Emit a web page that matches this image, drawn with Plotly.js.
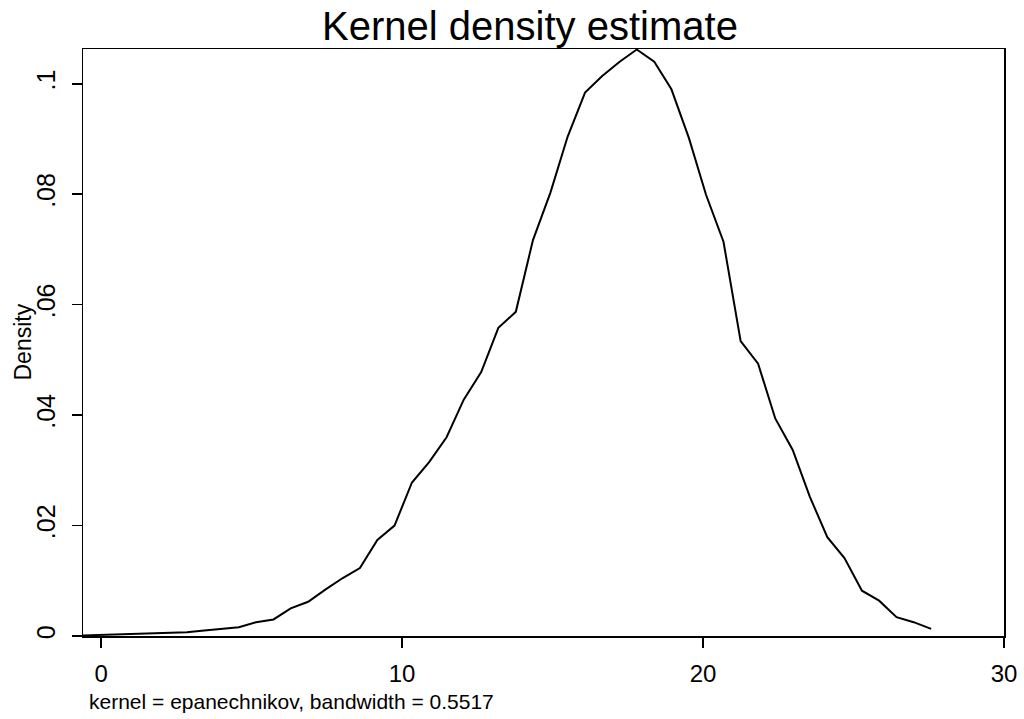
<!DOCTYPE html>
<html>
<head>
<meta charset="utf-8">
<script src="https://cdn.plot.ly/plotly-3.0.1.min.js"></script>
<style>html,body{margin:0;padding:0;background:#fff;}#chart{width:1024px;height:719px;}</style>
</head>
<body>
<div id="chart"></div>
<script>
const gridPoints = [-0.60, -0.02, 0.55, 1.13, 1.70, 2.28, 2.85, 3.43, 4.00, 4.58,
  5.15, 5.73, 6.30, 6.88, 7.45, 8.03, 8.60, 9.18, 9.75, 10.33,
  10.90, 11.48, 12.05, 12.63, 13.20, 13.78, 14.35, 14.93, 15.50, 16.08,
  16.65, 17.23, 17.80, 18.38, 18.95, 19.53, 20.10, 20.68, 21.25, 21.83,
  22.40, 22.98, 23.55, 24.13, 24.70, 25.28, 25.85, 26.43, 27.00, 27.58];
const densityValues = [0.0001, 0.0002, 0.0003, 0.0004, 0.0005, 0.0006, 0.0007, 0.0010, 0.0013, 0.0016,
  0.0025, 0.0030, 0.0050, 0.0062, 0.0084, 0.0105, 0.0123, 0.0174, 0.0200, 0.0278,
  0.0315, 0.0360, 0.0428, 0.0478, 0.0558, 0.0587, 0.0717, 0.0803, 0.0904, 0.0984,
  0.1014, 0.1040, 0.1062, 0.1040, 0.0990, 0.0902, 0.0799, 0.0714, 0.0534, 0.0493,
  0.0394, 0.0337, 0.0252, 0.0179, 0.0141, 0.0082, 0.0064, 0.0034, 0.0025, 0.0013];
const xTickVals = [0, 10, 20, 30];
const xTickText = ["0", "10", "20", "30"];
const yTickVals = [0, 0.02, 0.04, 0.06, 0.08, 0.1];
const yTickText = ["0", ".02", ".04", ".06", ".08", ".1"];
const chartTitle = "Kernel density estimate";
const yTitle = "Density";
const noteText = "kernel = epanechnikov, bandwidth = 0.5517";

const W = 1024, H = 719;
const fontFam = "Liberation Sans, Arial, sans-serif";

const trace = {
  x: gridPoints, y: densityValues, type: "scatter", mode: "lines",
  line: {color: "#000000", width: 2}, hoverinfo: "skip"
};

const axisCommon = {
  showline: true, linecolor: "#000000", linewidth: 1.5, mirror: true,
  ticks: "outside", ticklen: 10, tickwidth: 1.5, tickcolor: "#000000",
  showgrid: false, zeroline: false,
  tickfont: {family: fontFam, size: 24, color: "#000000"}
};

const layout = {
  width: W, height: H,
  paper_bgcolor: "#ffffff", plot_bgcolor: "#ffffff",
  margin: {l: 83, r: 20, t: 49, b: 83, pad: 0},
  showlegend: false,
  title: {text: chartTitle, x: 530 / W, xanchor: "center", xref: "container",
          y: 1 - 26 / H, yanchor: "middle", yref: "container",
          font: {family: fontFam, size: 40, color: "#000000"}},
  xaxis: Object.assign({}, axisCommon, {
    range: [-0.6, 30], tickmode: "array", tickvals: xTickVals, ticktext: xTickText,
    ticklabelstandoff: 6
  }),
  yaxis: Object.assign({}, axisCommon, {
    range: [0, 0.1063], tickmode: "array", tickvals: yTickVals, ticktext: yTickText,
    tickangle: -90, ticklabelstandoff: 7,
    tickfont: {family: fontFam, size: 25, color: "#000000"}
  }),
  annotations: [
    {text: yTitle, xref: "paper", yref: "paper", x: (22 - 83) / (1004 - 83), y: 0.5,
     xanchor: "center", yanchor: "middle", textangle: -90, showarrow: false,
     font: {family: fontFam, size: 23, color: "#000000"}},
    {text: noteText, xref: "paper", yref: "paper", x: (87 - 83) / (1004 - 83), y: -(701 - 636) / (636 - 49),
     xanchor: "left", yanchor: "middle", showarrow: false,
     font: {family: fontFam, size: 21, color: "#000000"}}
  ]
};

Plotly.newPlot("chart", [trace], layout, {displayModeBar: false, staticPlot: true});
</script>
</body>
</html>
